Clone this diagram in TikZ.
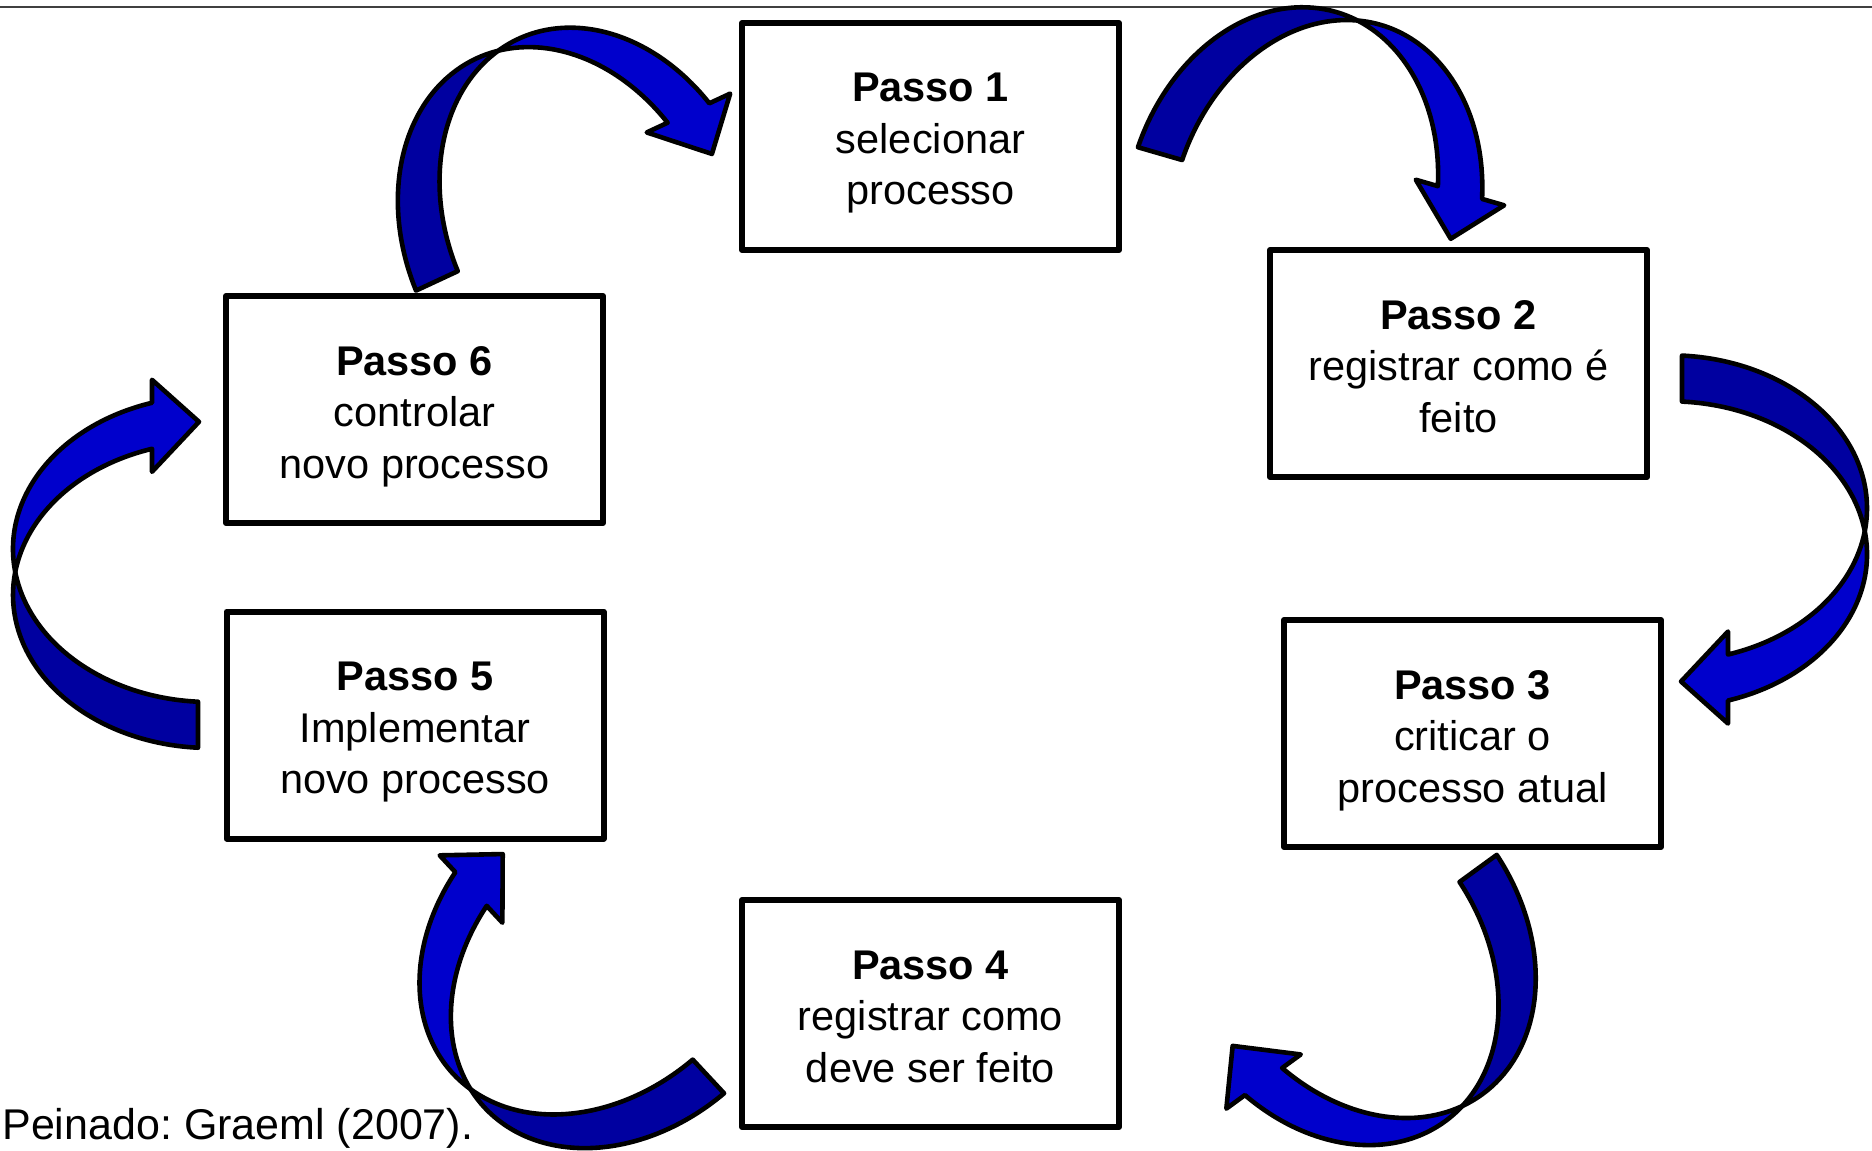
\documentclass[tikz,border=0pt]{standalone}
\usepackage{fontspec}
\setmainfont{Liberation Sans}
\usetikzlibrary{calc}
\frenchspacing

\definecolor{backblue}{RGB}{0,0,160}
\definecolor{frontblue}{RGB}{0,0,204}

% struts that fix the height of the first line and the depth of the last one
\newcommand{\toprow}{\rule{0pt}{22pt}}
\newcommand{\lowrow}{\rule[-5pt]{0pt}{5pt}}

% Curved band arrow: two copies of one ellipse, shifted by the band width,
% give a darker back part (tail) and a brighter front part (head).
% #1 name, #2/#3 centre, #4 clockwise turn in degrees
\newcommand{\bandarrow}[4]{%
  \begin{scope}[shift={(#2,#3)}, rotate=-#4]
    \coordinate (#1) at (0,0);
    \filldraw[arrowedge, fill=backblue]
      ($(0,23)+(93.49:197 and 153)$)
      arc[start angle=93.49, end angle=188.645, x radius=197, y radius=153]
      arc[start angle=171.355, end angle=93.49, x radius=197, y radius=153]
      -- cycle;
    \filldraw[arrowedge, fill=frontblue]
      ($(0,-23)+(171.355:197 and 153)$)
      arc[start angle=171.355, end angle=252.88, x radius=197, y radius=153]
      -- (-58,-192.2) -- (-11,-150.2) -- (-58,-100.2) -- (-58,-123.2)
      arc[start angle=252.88, end angle=188.645, x radius=197, y radius=153]
      -- cycle;
  \end{scope}}

\begin{document}
\begin{tikzpicture}[x=0.5pt, y=-0.5pt,
  stepbox/.style={draw=black, line width=3pt, fill=white, line join=round,
    minimum width=188.5pt, minimum height=113.5pt, inner sep=0pt,
    align=center, font=\fontsize{20.75pt}{25.75pt}\selectfont},
  arrowedge/.style={draw=black, line width=2.3pt, line join=round},
  topline/.style={draw=black!75, line width=0.8pt},
  source/.style={inner sep=0pt, font=\fontsize{21.5pt}{25pt}\selectfont}]

  \useasboundingbox (0,0) rectangle (1872,1150);
  \fill[white] (0,0) rectangle (1872,1150);

  % rule across the top
  \coordinate (ruleL) at (0,7);
  \coordinate (ruleR) at (1872,7);
  \draw[topline] (ruleL) -- (ruleR);

  % the six steps
  \node[stepbox] (s1) at (930.5,136.5)
    {\toprow\textbf{Passo 1}\\selecionar\\processo\lowrow};
  \node[stepbox] (s2) at (1458.5,363.5)
    {\toprow\textbf{Passo 2}\\registrar como é\\feito\lowrow};
  \node[stepbox] (s3) at (1472.5,733.5)
    {\toprow\textbf{Passo 3}\\criticar o\\processo atual\lowrow};
  \node[stepbox] (s4) at (930.5,1013.5)
    {\toprow\textbf{Passo 4}\\registrar como\\deve ser feito\lowrow};
  \node[stepbox] (s5) at (415,725)
    {\toprow\textbf{Passo 5}\\Implementar\\novo processo\lowrow};
  \node[stepbox] (s6) at (414.5,409.5)
    {\toprow\textbf{Passo 6}\\controlar\\novo processo\lowrow};

  % curved arrows between the steps
  \bandarrow{a12}{1303.4}{207.6}{106.14}
  \bandarrow{a23}{1670}{531.3}{180}
  \bandarrow{a34}{1347.6}{948.6}{-126.05}
  \bandarrow{a45}{613.1}{956.5}{-42.95}
  \bandarrow{a56}{210}{572}{0}
  \bandarrow{a61}{580.4}{227.3}{65.04}

  % source line
  \node[source, anchor=base west] (src) at (2,1139) {Peinado: Graeml (2007).};
\end{tikzpicture}
\end{document}
